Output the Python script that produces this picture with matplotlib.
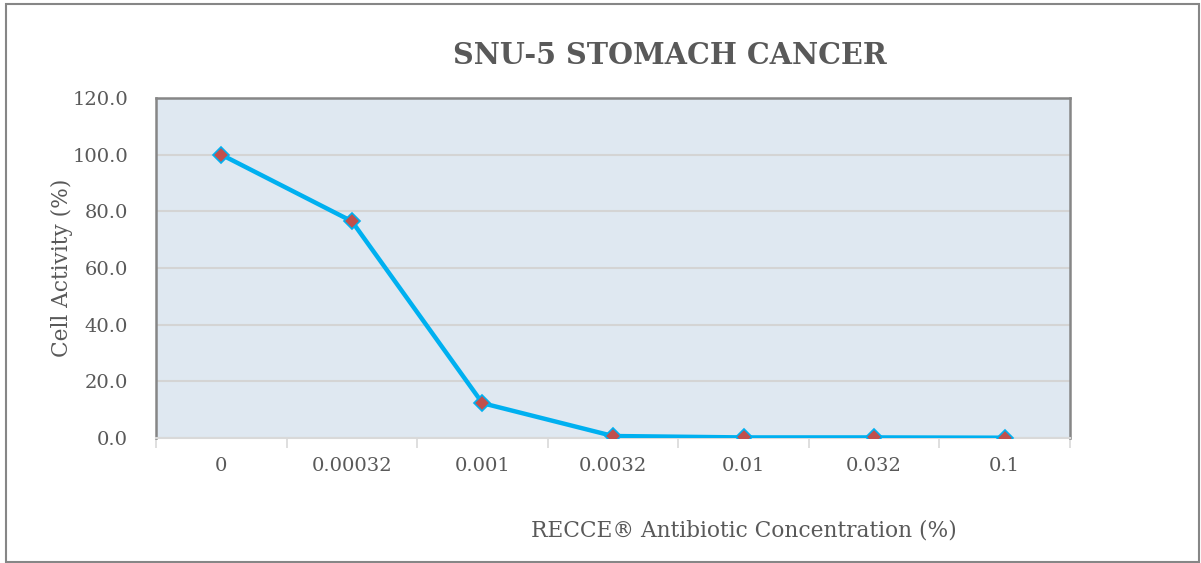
import matplotlib.pyplot as plt
from matplotlib.patches import Rectangle

# Data
concentrations = ['0', '0.00032', '0.001', '0.0032', '0.01', '0.032', '0.1']
cell_activity = [100.0, 76.5, 12.3, 0.7, 0.2, 0.2, 0.1]
y_ticks = [0, 20, 40, 60, 80, 100, 120]

plt.rcParams['font.family'] = ['DejaVu Serif']

fig = plt.figure(figsize=(12.01, 5.63), dpi=100)
ax = fig.add_axes([156 / 1201, 1 - 438 / 563, 914 / 1201, 340 / 563])

# outer chart border
fig.patches.append(Rectangle((6 / 1201, 1 / 563), 1193 / 1201, 558 / 563,
                             transform=fig.transFigure, fill=False,
                             edgecolor='#868686', linewidth=1.5))

ax.set_facecolor('#DFE8F1')
x = list(range(len(concentrations)))
ax.plot(x, cell_activity, color='#00B0F0', linewidth=3.2, marker='D',
        markersize=8.5, markerfacecolor='#C0504D', markeredgecolor='#00B0F0',
        markeredgewidth=1.2, zorder=3)

ax.set_xlim(-0.5, len(concentrations) - 0.5)
ax.set_ylim(0, 120)
ax.set_yticks(y_ticks)
ax.set_yticklabels([f'{v:.1f}' for v in y_ticks])
ax.set_xticks(x)
ax.set_xticklabels(concentrations)
ax.set_xticks([i - 0.5 for i in range(len(concentrations) + 1)], minor=True)

ax.tick_params(axis='x', which='major', length=0, pad=14, labelsize=14, labelcolor='#595959')
ax.tick_params(axis='x', which='minor', length=7, width=1.2, color='#D9D9D9')
ax.tick_params(axis='y', length=0, pad=20, labelsize=14, labelcolor='#595959')

ax.grid(axis='y', color='#D4D4D4', linewidth=1.5)
ax.set_axisbelow(True)

for side in ['left', 'top', 'right']:
    ax.spines[side].set_color('#868686')
    ax.spines[side].set_linewidth(1.8)
ax.spines['bottom'].set_color('#D9D9D9')
ax.spines['bottom'].set_linewidth(1.5)

fig.text(670 / 1201, 1 - 55 / 563, 'SNU-5 STOMACH CANCER', ha='center', va='center',
         fontsize=20.6, fontweight='bold', color='#595959')
fig.text(744 / 1201, 1 - 531 / 563, 'RECCE® Antibiotic Concentration (%)',
         ha='center', va='center', fontsize=15.7, color='#595959')
fig.text(62 / 1201, 1 - 268 / 563, 'Cell Activity (%)', ha='center', va='center',
         rotation=90, fontsize=15.7, color='#595959')

fig.savefig('out.png', dpi=100)
